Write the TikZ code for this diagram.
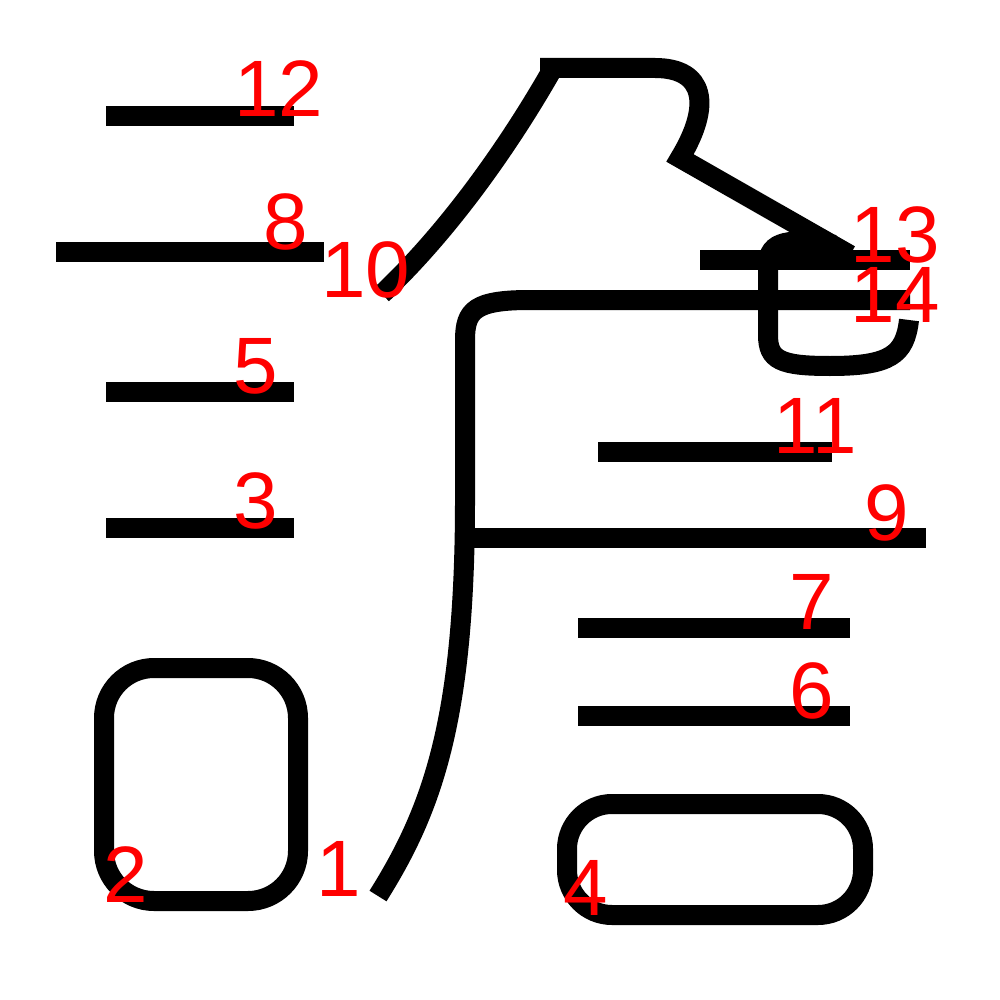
\documentclass[tikz,border=0pt]{standalone}
\usepackage{fontspec}
\setmainfont{Liberation Sans}
\begin{document}
\begin{tikzpicture}[x=1pt,y=-1pt,
  stroke/.style={draw=black, line width=20pt, line cap=butt, line join=miter},
  num/.style={text=red, font=\fontsize{80}{80}\selectfont, anchor=base, inner sep=0pt}]
\useasboundingbox[fill=white] (0,0) rectangle (1000,1000);
% stroke 1 + 14
\draw[stroke] (910,300) -- (530,300) .. controls (475,300) and (465,310) .. (465,340)
  -- (465,500) .. controls (465,720) and (432,810) .. (378,896);
% box 2
\draw[stroke, rounded corners=50pt] (104,668) rectangle (298,901);
% left lines
\draw[stroke] (106,116) -- (294,116);
\draw[stroke] (56,252) -- (324,252);
\draw[stroke] (106,392) -- (294,392);
\draw[stroke] (106,528) -- (294,528);
% box 4
\draw[stroke, rounded corners=45pt] (567,804) rectangle (863,915);
% right lines
\draw[stroke] (598,452) -- (832,452);
\draw[stroke] (465,538) -- (926,538);
\draw[stroke] (578,628) -- (850,628);
\draw[stroke] (578,716) -- (850,716);
\draw[stroke] (700,260) -- (910,260);
% slant 10
\draw[stroke] (552,70) .. controls (515,135) and (455,225) .. (382,294);
% top shape
\draw[stroke] (540,68) -- (655,68) .. controls (705,68) and (712,105) .. (680,158) -- (850,255);
% hook
\draw[stroke] (835,245) .. controls (790,238) and (768,240) .. (768,265) -- (768,335)
  .. controls (768,360) and (780,366) .. (830,366) .. controls (890,366) and (905,355) .. (909,320);
% labels
\node[num] (n12) at (279,117) {12};
\node[num] (n8) at (286,250) {8};
\node[num] (n10) at (366,297) {10};
\node[num] (n5) at (256,393) {5};
\node[num] (n3) at (256,528) {3};
\node[num] (n13) at (895,262) {13};
\node[num] (n14) at (895,322) {14};
\node[num] (n11) at (815,453) {11};
\node[num] (n9) at (887,540) {9};
\node[num] (n7) at (812,629) {7};
\node[num] (n6) at (812,718) {6};
\node[num] (n2) at (126,902) {2};
\node[num] (n1) at (339,896) {1};
\node[num] (n4) at (586,915) {4};
\end{tikzpicture}
\end{document}
